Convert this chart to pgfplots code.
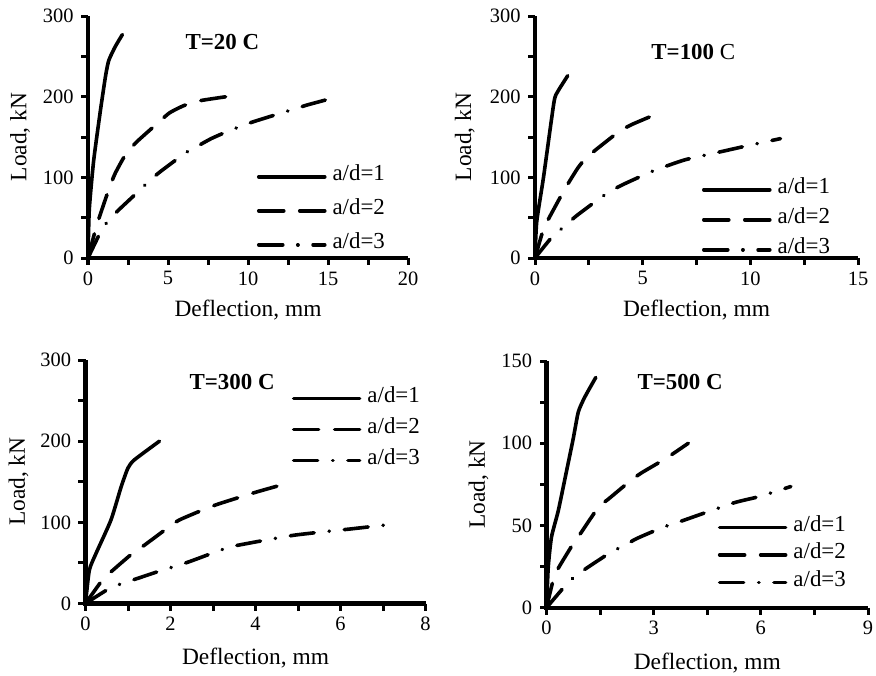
\documentclass[border=0pt]{standalone}
\usepackage{pgfplots}
\pgfplotsset{compat=1.18}
\usepackage{fontspec}
\setmainfont{Liberation Serif}

\tikzset{
  axl/.style={black, line width=4.2bp, line cap=butt, line join=miter},
  tkl/.style={black, line width=3bp, line cap=butt},
}
\pgfplotsset{
  legend image code/.code={\draw[#1] (0bp,0bp) -- (66bp,0bp);},
  panel/.style={
    scale only axis, clip=false,
    axis x line*=bottom, axis y line*=left,
    tick align=outside,
    major tick length=7bp, minor tick length=6bp,
    tick label style={font=\fontsize{20.5}{21}\selectfont},
    xticklabel style={yshift=-3bp},
    yticklabel style={xshift=-4bp},
    xmin=0, ymin=0,
    legend cell align=left,
    legend style={draw=none, fill=none, font=\fontsize{23}{24}\selectfont,
      inner sep=0pt, outer sep=0pt, column sep=6bp, anchor=west,
      nodes={inner sep=0pt, text height=12bp, text depth=4bp}},
    every axis y label/.style={rotate=90, anchor=center, font=\fontsize{23.5}{24}\selectfont},
    every axis x label/.style={anchor=center, font=\fontsize{23.5}{24}\selectfont},
    xlabel={Deflection, mm}, ylabel={Load, kN},
  },
  sA/.style={black, line width=3.6bp, smooth, tension=0.35, line cap=round, line join=round},
  sB/.style={black, line width=3.6bp, smooth, tension=0.35, line cap=round, dash pattern=on 25bp off 16bp},
  sC/.style={black, line width=3.6bp, smooth, tension=0.35, line cap=round, dash pattern=on 24bp off 15bp on 0.3bp off 15bp},
}

\begin{document}
\begin{tikzpicture}
\useasboundingbox (0bp,0bp) rectangle (876bp,-676bp);

% ---------------- T = 20 C ----------------
\begin{axis}[panel,
  at={(88bp,-258bp)}, anchor=south west,
  width=320bp, height=242bp,
  xmax=20, ymax=300,
  xtick={0,5,10,15,20}, minor xtick={2.5,7.5,12.5,17.5},
  ytick={0,100,200,300}, minor ytick={50,150,250},
  xlabel style={at={(axis description cs:0.5,-0.215)}},
  ylabel style={at={(axis description cs:-0.2125,0.5)}},
  legend style={at={(axis description cs:0.528,0.195)}, row sep=18bp},
  /pgf/number format/assume math mode=true,
]
\addplot[sA] coordinates {(0,0) (0.08,60) (0.35,120) (0.77,182) (1.1,226) (1.3,245) (1.7,262) (2.15,277)};
\addlegendentry{a/d=1}
\addplot[sB] coordinates {(0,0) (0.4,30) (0.7,50) (1.3,85) (1.7,105) (2.4,130) (3.1,145) (4.4,168) (5.1,180) (6.0,189) (7.0,195) (8.65,200)};
\addlegendentry{a/d=2}
\addplot[sC] coordinates {(0,0) (0.73,30) (1.25,46) (1.94,60) (3.23,84) (3.85,96) (4.58,108) (6.15,131) (6.88,139) (7.7,148) (8.85,158) (10.2,168) (11.15,174) (13.1,186) (13.75,190) (14.5,194) (15.6,200)};
\addlegendentry{a/d=3}
\draw[axl] (rel axis cs:0,1) -- (rel axis cs:0,0) -- (rel axis cs:1,0);
\pgfplotsinvokeforeach{0,2.5,5,7.5,10,12.5,15,17.5,20}{\draw[tkl] (axis cs:#1,0) -- ++(0bp,-7bp);}
\pgfplotsinvokeforeach{0,50,100,150,200,250,300}{\draw[tkl] (axis cs:0,#1) -- ++(-7bp,0bp);}
\node[font=\bfseries\fontsize{23}{24}\selectfont] at (axis cs:8.4,268) {T=20 C};
\end{axis}

% ---------------- T = 100 C ----------------
\begin{axis}[panel,
  at={(535bp,-258bp)}, anchor=south west,
  width=323bp, height=242bp,
  xmax=15, ymax=300,
  xtick={0,5,10,15}, minor xtick={2.5,7.5,12.5},
  ytick={0,100,200,300}, minor ytick={50,150,250},
  xlabel style={at={(axis description cs:0.5,-0.215)}},
  ylabel style={at={(axis description cs:-0.217,0.5)}},
  legend style={at={(axis description cs:0.517,0.158)}, row sep=14bp},
  /pgf/number format/assume math mode=true,
]
\addplot[sA] coordinates {(0,0) (0.08,45) (0.4,101) (0.88,193) (1.05,206) (1.52,226)};
\addlegendentry{a/d=1}
\addplot[sB] coordinates {(0,0) (0.36,33) (0.62,48) (1.29,81) (1.6,95) (2.0,112) (2.37,124) (2.91,136) (3.92,157) (4.54,166) (5.78,180)};
\addlegendentry{a/d=2}
\addplot[sC] coordinates {(0,0) (0.82,27) (1.36,39) (1.91,52) (2.91,72) (3.5,83) (4.16,92) (5.4,107) (6.0,113) (7.0,122) (8.67,132) (10.0,140) (11.4,148)};
\addlegendentry{a/d=3}
\draw[axl] (rel axis cs:0,1) -- (rel axis cs:0,0) -- (rel axis cs:1,0);
\pgfplotsinvokeforeach{0,2.5,5,7.5,10,12.5,15}{\draw[tkl] (axis cs:#1,0) -- ++(0bp,-7bp);}
\pgfplotsinvokeforeach{0,50,100,150,200,250,300}{\draw[tkl] (axis cs:0,#1) -- ++(-7bp,0bp);}
\node[font=\fontsize{23}{24}\selectfont] at (axis cs:7.35,255) {\textbf{T=100} C};
\end{axis}

% ---------------- T = 300 C ----------------
\begin{axis}[panel,
  at={(85.5bp,-603.5bp)}, anchor=south west,
  width=340bp, height=243.5bp,
  xmax=8, ymax=300,
  xtick={0,2,4,6,8}, minor xtick={1,3,5,7},
  ytick={0,100,200,300}, minor ytick={50,150,250},
  xlabel style={at={(axis description cs:0.5,-0.226)}},
  ylabel style={at={(axis description cs:-0.197,0.5)}},
  legend style={at={(axis description cs:0.607,0.715)}, row sep=15bp},
  /pgf/number format/assume math mode=true,
]
\addplot[sA] coordinates {(0,0) (0.09,41) (0.25,62) (0.6,103) (0.84,144) (1.0,167) (1.15,177) (1.74,200)};
\addlegendentry{a/d=1}
\addplot[sB] coordinates {(0,0) (0.37,27) (0.6,39) (1.11,62) (1.39,72) (1.93,93) (2.21,103) (2.84,117) (3.15,123) (4.0,137) (4.81,149)};
\addlegendentry{a/d=2}
\addplot[sC] coordinates {(0,0) (0.56,18.5) (0.88,25) (1.23,31) (1.86,42) (2.19,47) (2.52,53) (3.19,66) (3.51,71) (4.89,84) (6.26,92) (7.28,98)};
\addlegendentry{a/d=3}
\draw[axl] (rel axis cs:0,1) -- (rel axis cs:0,0) -- (rel axis cs:1,0);
\pgfplotsinvokeforeach{0,1,2,3,4,5,6,7,8}{\draw[tkl] (axis cs:#1,0) -- ++(0bp,-7bp);}
\pgfplotsinvokeforeach{0,50,100,150,200,250,300}{\draw[tkl] (axis cs:0,#1) -- ++(-7bp,0bp);}
\node[font=\bfseries\fontsize{23}{24}\selectfont] at (axis cs:3.45,273) {T=300 C};
\end{axis}

% ---------------- T = 500 C ----------------
\begin{axis}[panel,
  at={(546.5bp,-607.7bp)}, anchor=south west,
  width=321.5bp, height=246.7bp,
  xmax=9, ymax=150,
  xtick={0,3,6,9}, minor xtick={1.5,4.5,7.5},
  ytick={0,50,100,150}, minor ytick={25,75,125},
  xlabel style={at={(axis description cs:0.5,-0.223)}},
  ylabel style={at={(axis description cs:-0.2115,0.5)}},
  legend style={at={(axis description cs:0.533,0.214)}, row sep=11.5bp},
  /pgf/number format/assume math mode=true,
]
\addplot[sA] coordinates {(0,0) (0.05,25) (0.14,43) (0.33,59) (0.56,83) (0.75,103) (0.89,119) (1.07,128) (1.38,140)};
\addlegendentry{a/d=1}
\addplot[sB] coordinates {(0,0) (0.19,17) (0.33,24) (0.75,39) (0.98,46) (1.45,61) (1.73,66) (2.34,77) (2.66,82) (3.36,91) (3.97,100)};
\addlegendentry{a/d=2}
\addplot[sC] coordinates {(0,0) (0.51,13) (0.79,19) (1.12,24) (1.82,34) (2.2,38) (2.52,42) (3.27,49) (3.69,52) (5.22,63.6) (5.96,67.6) (6.84,73.7)};
\addlegendentry{a/d=3}
\draw[axl] (rel axis cs:0,1) -- (rel axis cs:0,0) -- (rel axis cs:1,0);
\pgfplotsinvokeforeach{0,1.5,3,4.5,6,7.5,9}{\draw[tkl] (axis cs:#1,0) -- ++(0bp,-7bp);}
\pgfplotsinvokeforeach{0,25,50,75,100,125,150}{\draw[tkl] (axis cs:0,#1) -- ++(-7bp,0bp);}
\node[font=\bfseries\fontsize{23}{24}\selectfont] at (axis cs:3.74,137) {T=500 C};
\end{axis}
\end{tikzpicture}
\end{document}
